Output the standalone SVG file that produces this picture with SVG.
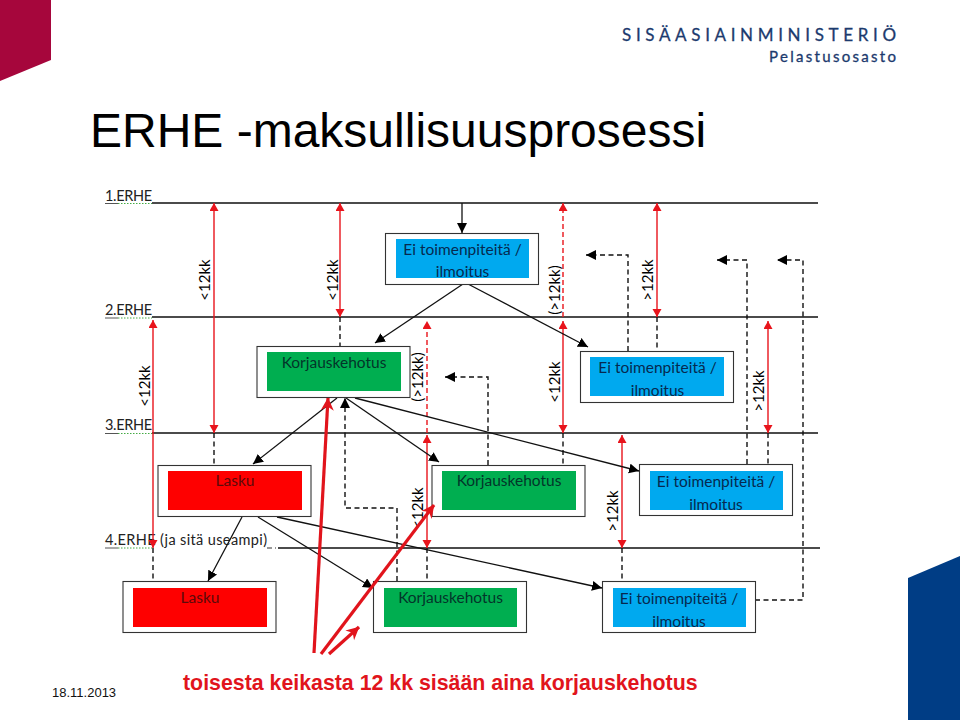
<svg xmlns="http://www.w3.org/2000/svg" width="960" height="720" viewBox="0 0 960 720">
<style>
.lane{stroke:#111;stroke-width:1.6;fill:none}
.box{fill:#fff;stroke:#333;stroke-width:1.1}
.t{font-family:Lato,"Liberation Sans",sans-serif;font-size:15.5px;text-anchor:middle}
.tb{fill:#06294f}
.tg{fill:#03352a}
.tr{fill:#5c0a0a}
.lab{font-family:Lato,"Liberation Sans",sans-serif;font-size:14.5px;fill:#222}
.v{font-family:Lato,"Liberation Sans",sans-serif;font-size:15px;text-anchor:middle;fill:#000}
.r{stroke:#e8141c;stroke-width:1.4;fill:none;marker-start:url(#rh);marker-end:url(#rh)}
.rd{stroke:#e8141c;stroke-width:1.4;stroke-dasharray:5 3;fill:none;marker-end:url(#rh)}
.d{stroke:#111;stroke-width:1.4;stroke-dasharray:5 3.5;fill:none}
.da{stroke:#111;stroke-width:1.4;stroke-dasharray:5 3.5;fill:none;marker-end:url(#bh)}
.a{stroke:#111;stroke-width:1.3;fill:none;marker-end:url(#bh)}
.big{stroke:#e1141c;stroke-width:3.2;fill:none;marker-end:url(#big)}
</style>
<defs>
<marker id="rh" markerUnits="userSpaceOnUse" markerWidth="10" markerHeight="10" refX="8" refY="4.5" orient="auto-start-reverse"><path d="M0 0L8 4.500L0 9Z" fill="#e8141c"/></marker>
<marker id="bh" markerUnits="userSpaceOnUse" markerWidth="12" markerHeight="12" refX="10" refY="5" orient="auto"><path d="M0 0L10 5L0 10Z" fill="#000"/></marker>
<marker id="big" markerUnits="userSpaceOnUse" markerWidth="16" markerHeight="16" refX="12.500" refY="6.500" orient="auto"><path d="M0 0L13 6.500L0 13L4 6.500Z" fill="#e1141c"/></marker>
</defs>
<polygon points="0,0 51,0 51,60 0,81" fill="#a6063c"/>
<polygon points="908,578 960,556 960,720 908,720" fill="#003d85"/>
<text x="622" y="41" textLength="274" font-family="Lato,'Liberation Sans',sans-serif" font-size="17" stroke="#1c3a6e" stroke-width="0.3" fill="#1c3a6e">SISÄASIAINMINISTERIÖ</text>
<text x="769" y="62" textLength="127" font-family="Lato,'Liberation Sans',sans-serif" font-size="15" stroke="#1c3a6e" stroke-width="0.3" fill="#1c3a6e">Pelastusosasto</text>
<text x="90" y="147" font-family="'Liberation Sans',Arial,sans-serif" font-size="48" fill="#000">ERHE -maksullisuusprosessi</text>
<text x="52" y="697" font-family="'Liberation Sans',Arial,sans-serif" font-size="13" fill="#111">18.11.2013</text>
<text x="183" y="690" font-family="'Liberation Sans',Arial,sans-serif" font-size="21.33" font-weight="bold" fill="#e1141c">toisesta keikasta 12 kk sisään aina korjauskehotus</text>

<g id="lanes">
<path class="lane" d="M152 203H818M152 317H818M152 433H818M278 548H820"/>
<path d="M267 548H276" stroke="#333" stroke-width="1.200" stroke-dasharray="5 3"/>
<g fill="none" stroke-width="1">
<path d="M105 203.500H118M105 318H118M105 433.500H118M105 548H118" stroke="#555"/>
<path d="M118 203.500H152M118 318H152M118 433.500H152M118 548H152" stroke="#4a4" stroke-dasharray="1.500 1.500"/>
</g>
<text class="lab" x="105" y="201" textLength="47">1.ERHE</text>
<text class="lab" x="105" y="315" textLength="47">2.ERHE</text>
<text class="lab" x="105" y="430" textLength="47">3.ERHE</text>
<text class="lab" x="105" y="545" textLength="162">4.ERHE (ja sitä useampi)</text>
</g>

<g id="connectors">
<path class="r" d="M214 203V433"/>
<path class="r" d="M340 203V317"/>
<path class="r" d="M153 320V548"/>
<path class="r" d="M427 435V548"/>
<path class="rd" d="M427 433V321"/>
<path class="rd" d="M563 317V203"/>
<path class="r" d="M563 321V433"/>
<path class="r" d="M657 203V317"/>
<path class="r" d="M768 321V433"/>
<path class="r" d="M622 435V548"/>
<path class="d" d="M214 433V465M340 317V346M153 548V581M427 548V581M563 433V465M657 317V351M768 433V464M622 548V581"/>
<path class="da" d="M628 351V255H586"/>
<path class="da" d="M747 464V260H717"/>
<path class="da" d="M755 600H803V260H777"/>
<path class="da" d="M488 465V377H445"/>
<path class="da" d="M397 581V508H345V398"/>
<path class="a" d="M462 203V233" stroke-width="1.800"/>
<path class="a" d="M463 284L375 343"/>
<path class="a" d="M468 284L588 347"/>
<path class="a" d="M337 398L253 464"/>
<path class="a" d="M346 398L439 462"/>
<path class="a" d="M355 398L639 471"/>
<path class="a" d="M242 517L208 581"/>
<path class="a" d="M258 517L373 588"/>
<path class="a" d="M277 517L602 588"/>
</g>

<g id="labels">
<text class="v" transform="translate(210,280) rotate(-90)">&lt;12kk</text>
<text class="v" transform="translate(338,280) rotate(-90)">&lt;12kk</text>
<text class="v" transform="translate(150,386) rotate(-90)">&lt;12kk</text>
<text class="v" transform="translate(423,377) rotate(-90)">(&gt;12kk)</text>
<text class="v" transform="translate(560,290) rotate(-90)">(&gt;12kk)</text>
<text class="v" transform="translate(653,280) rotate(-90)">&gt;12kk</text>
<text class="v" transform="translate(560,382) rotate(-90)">&lt;12kk</text>
<text class="v" transform="translate(764,391) rotate(-90)">&gt;12kk</text>
<text class="v" transform="translate(423,508) rotate(-90)">&lt;12kk</text>
<text class="v" transform="translate(618,511) rotate(-90)">&gt;12kk</text>
</g>

<g id="n1"><rect class="box" x="385.500" y="233.500" width="153" height="51"/><rect x="396" y="239" width="133" height="39" fill="#00a9ef"/><text class="t tb" x="462.500" y="255">Ei toimenpiteitä /</text><text class="t tb" x="462.500" y="277">ilmoitus</text></g>
<g id="n2"><rect class="box" x="257" y="346.500" width="153" height="51"/><rect x="267" y="352" width="134" height="39" fill="#00ae50"/><text class="t tg" x="334" y="368">Korjauskehotus</text></g>
<g id="n3"><rect class="box" x="580.500" y="351.500" width="153" height="51"/><rect x="590" y="357" width="134" height="39" fill="#00a9ef"/><text class="t tb" x="657.500" y="373">Ei toimenpiteitä /</text><text class="t tb" x="657.500" y="396">ilmoitus</text></g>
<g id="n4"><rect class="box" x="158" y="465.500" width="153" height="51"/><rect x="168" y="471" width="134" height="39" fill="#fe0000"/><text class="t tr" x="235" y="486">Lasku</text></g>
<g id="n5"><rect class="box" x="432" y="465.500" width="153" height="51"/><rect x="442" y="471" width="134" height="39" fill="#00ae50"/><text class="t tg" x="509" y="486">Korjauskehotus</text></g>
<g id="n6"><rect class="box" x="639.500" y="464.500" width="153" height="51"/><rect x="650" y="471" width="133" height="39" fill="#00a9ef"/><text class="t tb" x="716" y="487">Ei toimenpiteitä /</text><text class="t tb" x="716" y="510">ilmoitus</text></g>
<g id="n7"><rect class="box" x="123" y="581.500" width="153" height="51"/><rect x="133" y="588" width="134" height="39" fill="#fe0000"/><text class="t tr" x="200" y="603">Lasku</text></g>
<g id="n8"><rect class="box" x="373.500" y="581.500" width="153" height="51"/><rect x="384" y="588" width="133" height="39" fill="#00ae50"/><text class="t tg" x="450.500" y="603">Korjauskehotus</text></g>
<g id="n9"><rect class="box" x="602.500" y="581.500" width="153" height="51"/><rect x="613" y="588" width="133" height="39" fill="#00a9ef"/><text class="t tb" x="679" y="604">Ei toimenpiteitä /</text><text class="t tb" x="679" y="627">ilmoitus</text></g>

<g id="callouts">
<path class="big" d="M314 653L328 398"/>
<path class="big" d="M321 654L434 505"/>
<path class="big" d="M329 654L359 627"/>
</g>
</svg>
